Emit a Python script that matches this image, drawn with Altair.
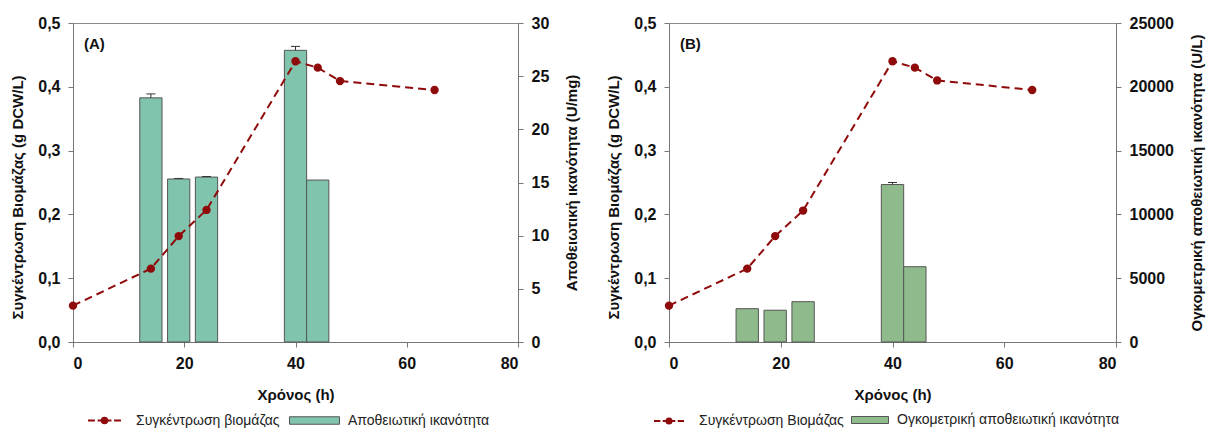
import altair as alt
import pandas as pd

# ---------------- data ----------------
hours = [0, 14, 19, 24, 40, 44, 48, 65]
biomass_a = [0.057, 0.115, 0.166, 0.207, 0.440, 0.430, 0.409, 0.395]
biomass_b = [0.057, 0.115, 0.166, 0.206, 0.440, 0.430, 0.410, 0.395]

bar_hours = [14, 19, 24, 40, 44]
specific_activity = [22.96, 15.33, 15.51, 27.43, 15.23]
specific_err = [0.37, 0.05, 0.05, 0.37, 0.0]
volumetric_activity = [2610, 2490, 3160, 12340, 5900]
volumetric_err = [0, 0, 0, 160, 0]

x_ticks = [0, 20, 40, 60, 80]
biomass_ticks = [0, 0.1, 0.2, 0.3, 0.4, 0.5]
specific_ticks = [0, 5, 10, 15, 20, 25, 30]
volumetric_ticks = [0, 5000, 10000, 15000, 20000, 25000]

x_title = "Χρόνος (h)"
left_title = "Συγκέντρωση Βιομάζας (g DCW/L)"

RED = "#8f0a0a"
FONT = "Liberation Sans"
LINE_PATH = ("M-1,0H-0.58M-0.42,0H0.42M0.58,0H1"
             "M0.17,0A0.17,0.17 0 1,1 -0.17,0A0.17,0.17 0 1,1 0.17,0"
             "M0.06,0A0.06,0.06 0 1,1 -0.06,0A0.06,0.06 0 1,1 0.06,0")


def panel(tag, biomass, act, err, line_label, bar_label, right_title,
          right_max, right_ticks, bar_color, width, line_leg, bar_leg,
          rect_half_h, line_sym, bar_sym):
    line_df = pd.DataFrame({"t": hours, "biomass": biomass, "series": line_label})
    bar_df = pd.DataFrame({"t": bar_hours, "act": act, "err": err, "series": bar_label})

    x_scale = alt.Scale(domain=[0, 80], nice=False)
    x_axis = alt.Axis(values=x_ticks, title=x_title, titlePadding=16)
    y_right_scale = alt.Scale(domain=[0, right_max], nice=False)
    y_right_axis = alt.Axis(orient="right", values=right_ticks, title=right_title,
                            format="d", titleAngle=270, titleBaseline="top",
                            titlePadding=16)
    y_left_scale = alt.Scale(domain=[0, 0.5], nice=False)
    y_left_axis = alt.Axis(orient="left", values=biomass_ticks, title=left_title,
                           labelExpr="replace(format(datum.value, '.1f'), '.', ',')",
                           titlePadding=12, titleY=174)

    base_bar = alt.Chart(bar_df).transform_calculate(
        t0="datum.t - 2", t1="datum.t + 2", top="datum.act + datum.err")

    bars = base_bar.mark_bar(stroke="#555555", strokeWidth=1).encode(
        x=alt.X("t0:Q", scale=x_scale, axis=x_axis),
        x2="t1:Q",
        y=alt.Y("act:Q", scale=y_right_scale, axis=y_right_axis),
        y2=alt.datum(0),
        fill=alt.Fill("series:N", scale=alt.Scale(range=[bar_color]),
                      legend=alt.Legend(orient="none", legendX=bar_leg[0], legendY=bar_leg[1],
                                        title=None, labelLimit=0,
                                        symbolType="M-1,-%sH1V%sH-1Z" % (rect_half_h, rect_half_h),
                                        symbolSize=bar_sym, symbolStrokeColor="#555555",
                                        symbolStrokeWidth=1, symbolOpacity=1,
                                        labelOffset=8)),
    )
    errs = base_bar.transform_filter("datum.err > 0").mark_rule(color="#333333", strokeWidth=1).encode(
        x=alt.X("t:Q", scale=x_scale, axis=x_axis),
        y=alt.Y("act:Q", scale=y_right_scale, axis=y_right_axis),
        y2="top:Q",
    )
    caps = base_bar.transform_filter("datum.err > 0").mark_tick(
        orient="horizontal", size=9, thickness=1, color="#333333", opacity=1).encode(
        x=alt.X("t:Q", scale=x_scale, axis=x_axis),
        y=alt.Y("top:Q", scale=y_right_scale, axis=y_right_axis),
    )

    line = alt.Chart(line_df).mark_line(strokeDash=[8, 5], strokeWidth=2).encode(
        x=alt.X("t:Q", scale=x_scale, axis=x_axis),
        y=alt.Y("biomass:Q", scale=y_left_scale, axis=y_left_axis),
        stroke=alt.Stroke("series:N", scale=alt.Scale(range=[RED]),
                          legend=alt.Legend(orient="none", legendX=line_leg[0], legendY=line_leg[1],
                                            title=None, labelLimit=0, symbolType=LINE_PATH,
                                            symbolSize=line_sym, symbolStrokeWidth=2,
                                            symbolFillColor=RED, labelOffset=14)),
    )
    points = alt.Chart(line_df).mark_point(filled=True, size=70, color=RED, opacity=1).encode(
        x=alt.X("t:Q", scale=x_scale, axis=x_axis),
        y=alt.Y("biomass:Q", scale=y_left_scale, axis=y_left_axis),
    )

    tag_text = alt.Chart(pd.DataFrame({"tag": [tag]})).mark_text(
        font=FONT, fontWeight="bold", fontSize=15, align="left", baseline="middle",
        color="#111111").encode(text="tag:N", x=alt.value(11), y=alt.value(21))

    return alt.layer(
        alt.layer(bars, errs, caps),
        alt.layer(line, points),
        tag_text,
    ).resolve_scale(y="independent").properties(width=width, height=319)


chart_a = panel("(A)", biomass_a, specific_activity, specific_err,
                "Συγκέντρωση βιομάζας", "Αποθειωτική ικανότητα",
                "Αποθειωτική ικανότητα (U/mg)", 30, specific_ticks,
                "#80c4ae", 445, (14, 380), (216, 372), 0.15, 1089, 2500)

chart_b = panel("(B)", biomass_b, [float(v) for v in volumetric_activity],
                [float(v) for v in volumetric_err],
                "Συγκέντρωση Βιομάζας", "Ογκομετρική αποθειωτική ικανότητα",
                "Ογκομετρική αποθειωτική ικανότητα (U/L)", 25000, volumetric_ticks,
                "#8fbb8c", 447, (-16, 382), (182, 378), 0.19, 900, 1369)

chart = alt.hconcat(chart_a, chart_b, spacing=25).resolve_scale(
    fill="independent", stroke="independent"
).properties(
    padding={"left": 10, "top": 14, "right": 2, "bottom": 0}
).configure_axis(
    labelFont=FONT, labelFontWeight="bold", labelFontSize=16, labelColor="#111111",
    titleFont=FONT, titleFontWeight="bold", titleFontSize=15, titleColor="#111111",
    domainColor="#777777", tickColor="#777777", tickSize=5, grid=False, labelPadding=8,
).configure_legend(
    labelFont=FONT, labelFontSize=14, labelColor="#222222",
).configure_view(stroke="#8a8a8a")

chart.save("out.html", embed_options={"renderer": "svg", "actions": False})
